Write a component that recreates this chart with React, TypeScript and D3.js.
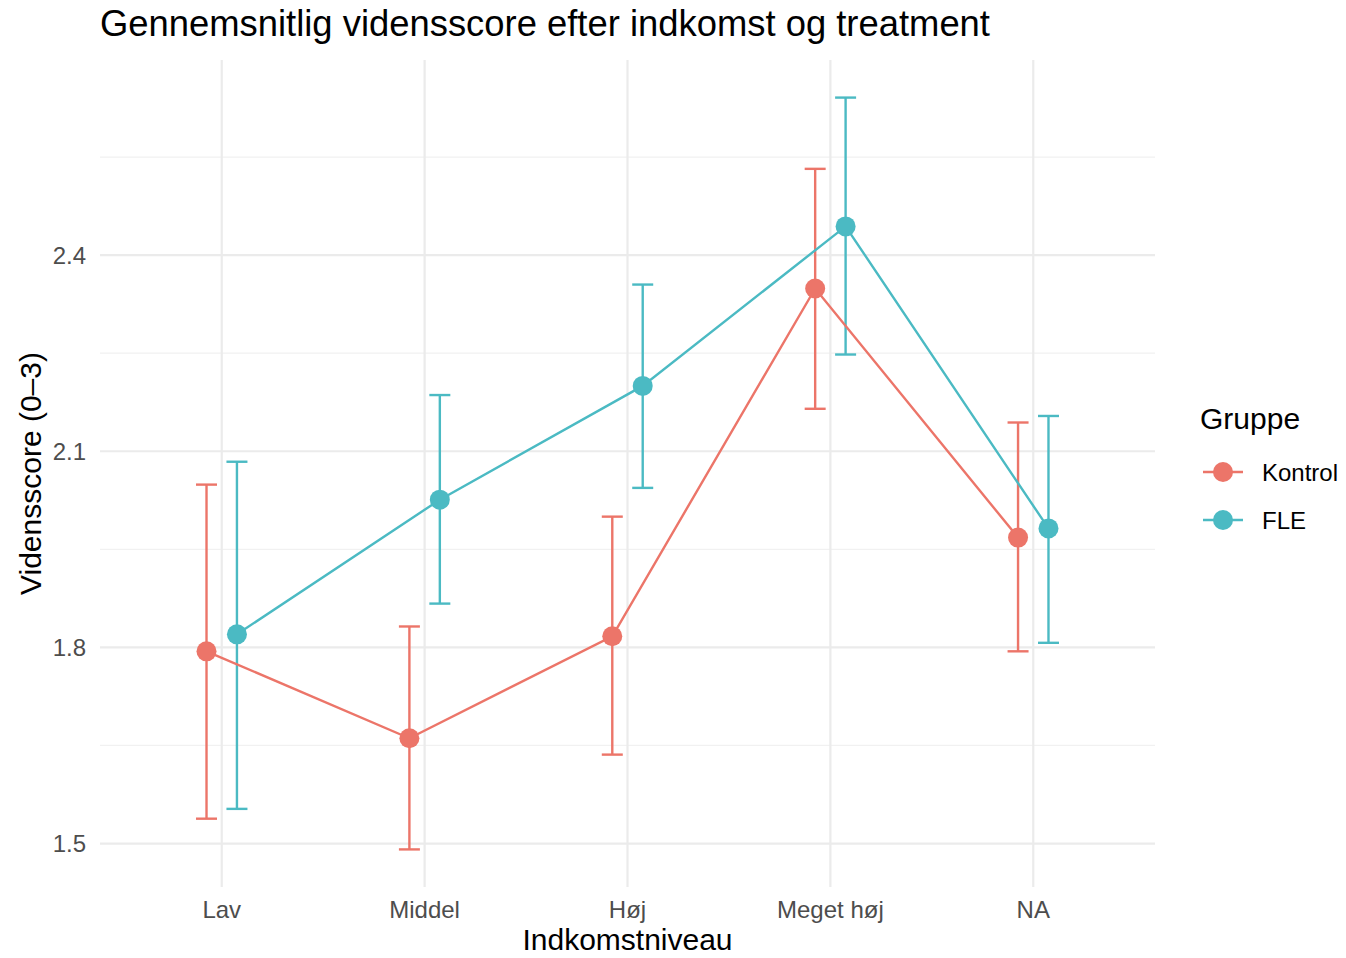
import React from "react";
import * as d3 from "d3";

const categories = ["Lav", "Middel", "Høj", "Meget høj", "NA"];
const groups = ["Kontrol", "FLE"];
const kontrolMean = [1.794, 1.661, 1.817, 2.349, 1.968];
const kontrolLow = [1.538, 1.491, 1.636, 2.165, 1.794];
const kontrolHigh = [2.049, 1.832, 2.0, 2.532, 2.144];
const fleMean = [1.82, 2.026, 2.2, 2.444, 1.982];
const fleLow = [1.553, 1.867, 2.044, 2.248, 1.807];
const fleHigh = [2.084, 2.186, 2.355, 2.641, 2.154];
const yMajor = [1.5, 1.8, 2.1, 2.4];
const yMinor = [1.65, 1.95, 2.25, 2.55];
const colors = ["#EC7569", "#4BBAC3"];

const W = 1346;
const H = 958;
const panel = { left: 100, right: 1155, top: 60, bottom: 887 };
const FONT = "'Liberation Sans', Arial, Helvetica, sans-serif";

export default function App() {
  const series = [
    { name: groups[0], mean: kontrolMean, low: kontrolLow, high: kontrolHigh, color: colors[0], dodge: -1 },
    { name: groups[1], mean: fleMean, low: fleLow, high: fleHigh, color: colors[1], dodge: 1 },
  ];
  const all = [...kontrolLow, ...kontrolHigh, ...fleLow, ...fleHigh];
  const mn = d3.min(all) as number;
  const mx = d3.max(all) as number;
  const pad = (mx - mn) * 0.05;
  const y = d3.scaleLinear().domain([mn - pad, mx + pad]).range([panel.bottom, panel.top]);
  const x = d3.scalePoint<string>().domain(categories).range([panel.left, panel.right]).padding(0.6);
  const dodgePx = x.step() * 0.075;

  return (
    <svg width={W} height={H} style={{ position: "absolute", left: 0, top: 0, background: "#fff" }} fontFamily={FONT}>
      {/* grid */}
      {yMinor.map((v) => (
        <line key={"mi" + v} x1={panel.left} x2={panel.right} y1={y(v)} y2={y(v)} stroke="#F1F1F1" strokeWidth={1.2} />
      ))}
      {yMajor.map((v) => (
        <line key={"ma" + v} x1={panel.left} x2={panel.right} y1={y(v)} y2={y(v)} stroke="#EBEBEB" strokeWidth={2.2} />
      ))}
      {categories.map((c) => (
        <line key={"vx" + c} x1={x(c)} x2={x(c)} y1={panel.top} y2={panel.bottom} stroke="#EBEBEB" strokeWidth={2.2} />
      ))}

      {/* error bars */}
      {series.map((s) =>
        categories.map((c, i) => {
          const cx = (x(c) as number) + s.dodge * dodgePx;
          return (
            <g key={s.name + "eb" + c} stroke={s.color} strokeWidth={2.4} fill="none">
              <line x1={cx} x2={cx} y1={y(s.low[i])} y2={y(s.high[i])} />
              <line x1={cx - 10.5} x2={cx + 10.5} y1={y(s.low[i])} y2={y(s.low[i])} />
              <line x1={cx - 10.5} x2={cx + 10.5} y1={y(s.high[i])} y2={y(s.high[i])} />
            </g>
          );
        })
      )}
      {/* lines */}
      {series.map((s) => (
        <path
          key={s.name + "ln"}
          d={
            d3
              .line<number>()
              .x((_, i) => (x(categories[i]) as number) + s.dodge * dodgePx)
              .y((d) => y(d))(s.mean) as string
          }
          fill="none"
          stroke={s.color}
          strokeWidth={2.4}
        />
      ))}
      {/* points */}
      {series.map((s) =>
        categories.map((c, i) => (
          <circle key={s.name + "pt" + c} cx={(x(c) as number) + s.dodge * dodgePx} cy={y(s.mean[i])} r={10} fill={s.color} />
        ))
      )}

      {/* y axis labels */}
      {yMajor.map((v) => (
        <text key={"yl" + v} x={86} y={y(v)} dy="0.35em" textAnchor="end" fontSize={24} fill="#4D4D4D">
          {d3.format(".1f")(v)}
        </text>
      ))}
      {/* x axis labels */}
      {categories.map((c) => (
        <text key={"xl" + c} x={x(c)} y={918} textAnchor="middle" fontSize={24} fill="#4D4D4D">
          {c}
        </text>
      ))}

      {/* axis titles */}
      <text x={(panel.left + panel.right) / 2} y={950} textAnchor="middle" fontSize={30} fill="#000">
        Indkomstniveau
      </text>
      <text
        transform={`translate(41, ${(panel.top + panel.bottom) / 2}) rotate(-90)`}
        textAnchor="middle"
        fontSize={30}
        fill="#000"
      >
        Vidensscore (0–3)
      </text>

      {/* title */}
      <text x={100} y={36} fontSize={36.4} fill="#000">
        Gennemsnitlig vidensscore efter indkomst og treatment
      </text>

      {/* legend */}
      <text x={1200} y={429} fontSize={30} fill="#000">
        Gruppe
      </text>
      {series.map((s, i) => {
        const cy = 472 + i * 48;
        return (
          <g key={s.name + "lg"}>
            <line x1={1203} x2={1243} y1={cy} y2={cy} stroke={s.color} strokeWidth={2.4} />
            <circle cx={1223} cy={cy} r={10} fill={s.color} />
            <text x={1262} y={cy} dy="0.36em" fontSize={24} fill="#000">
              {s.name}
            </text>
          </g>
        );
      })}
    </svg>
  );
}
